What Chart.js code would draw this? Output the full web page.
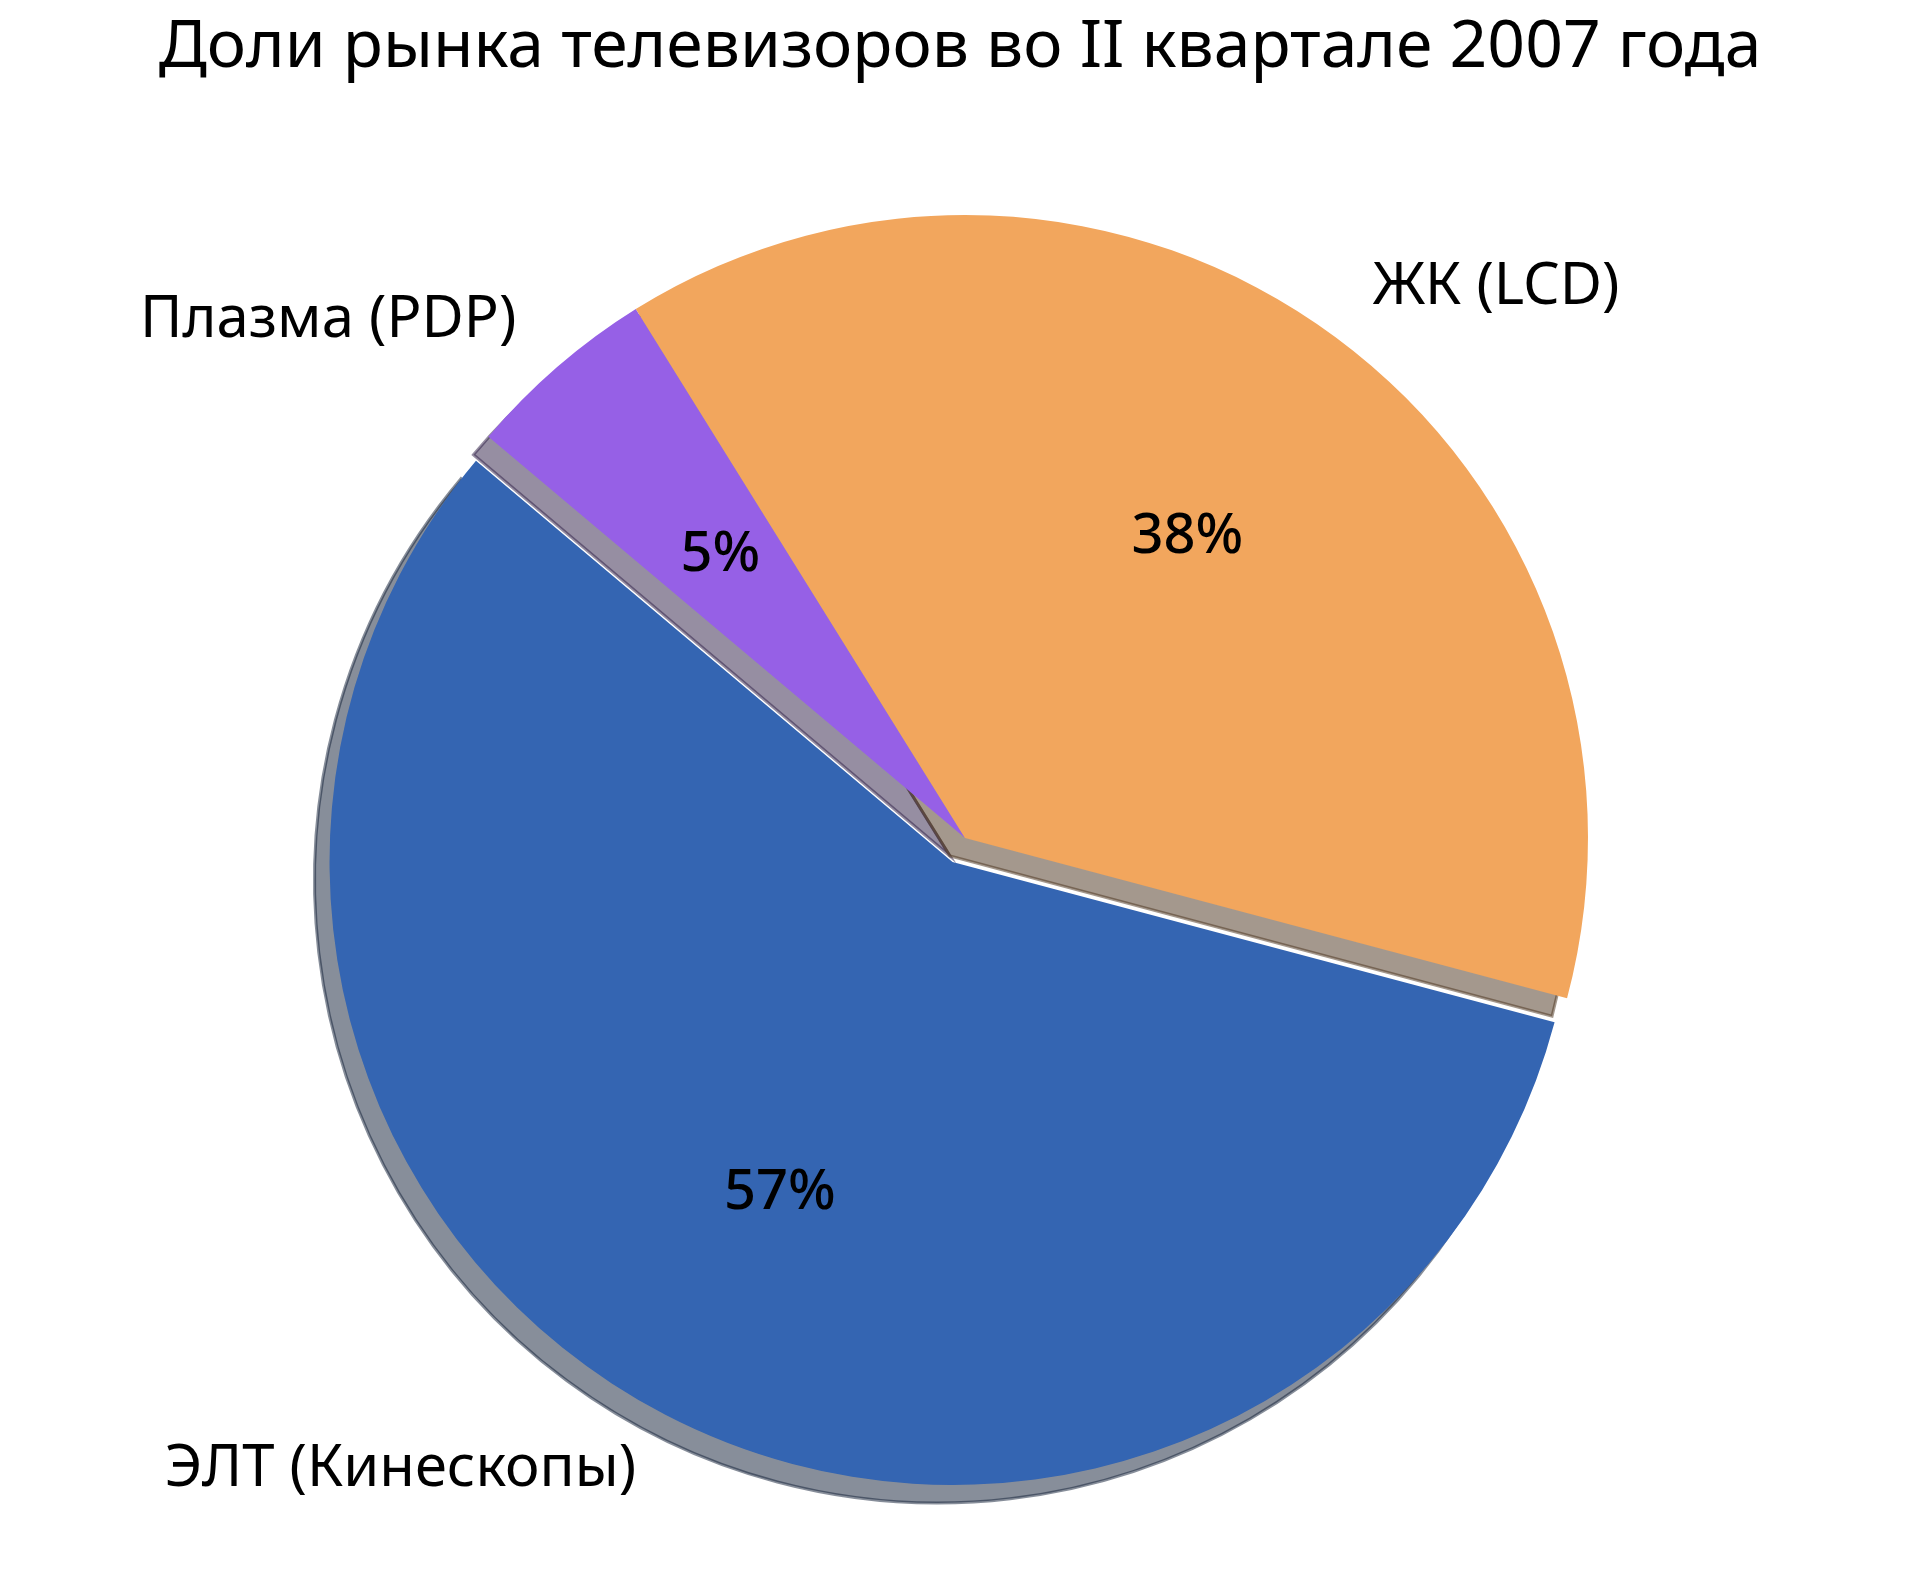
<!DOCTYPE html>
<html><head><meta charset="utf-8">
<script src="https://cdn.jsdelivr.net/npm/chart.js@4.4.0/dist/chart.umd.min.js"></script>
<style>html,body{margin:0;padding:0;background:#fff;} #wrap{width:1920px;height:1573px;position:relative;}</style>
</head><body><div id="wrap"><canvas id="c" width="1920" height="1573"></canvas></div>
<script>
const titleText = 'Доли рынка телевизоров во II квартале 2007 года';
const categories = ['ЭЛТ (Кинескопы)', 'Плазма (PDP)', 'ЖК (LCD)'];
const shares = [57, 5, 38];
const sliceColors = ['#3465B2', '#9660E6', '#F2A65D'];
const explodeFlags = [1, 0, 0];

const FONT = '"Noto Sans", "Open Sans", sans-serif';
const EXPLODE_PX = 27;
const SHADOW_DX = -15, SHADOW_DY = 18;

function shadowOf(hex) {
  const n = parseInt(hex.slice(1), 16);
  const r = ((n >> 16) & 255) * 0.3, g = ((n >> 8) & 255) * 0.3, b = (n & 255) * 0.3;
  return 'rgba(' + Math.round(r) + ',' + Math.round(g) + ',' + Math.round(b) + ',0.5)';
}

const explodePlugin = {
  id: 'explode',
  afterDatasetUpdate(chart, args) {
    const meta = args.meta;
    meta.data.forEach((arc, i) => {
      if (explodeFlags[i]) {
        const mid = (arc.startAngle + arc.endAngle) / 2;
        arc.x += Math.cos(mid) * EXPLODE_PX;
        arc.y += Math.sin(mid) * EXPLODE_PX;
      }
    });
  }
};

const shadowPlugin = {
  id: 'shadow',
  beforeDatasetsDraw(chart) {
    const ctx = chart.ctx;
    const meta = chart.getDatasetMeta(0);
    ctx.save();
    meta.data.forEach((arc, i) => {
      const x = arc.x + SHADOW_DX, y = arc.y + SHADOW_DY;
      ctx.beginPath();
      ctx.moveTo(x, y);
      ctx.arc(x, y, arc.outerRadius, arc.startAngle, arc.endAngle);
      ctx.closePath();
      const c = shadowOf(sliceColors[i]);
      ctx.fillStyle = c;
      ctx.fill();
      ctx.strokeStyle = c;
      ctx.lineWidth = 3;
      ctx.lineJoin = 'miter';
      ctx.stroke();
    });
    ctx.restore();
  }
};

const labelPlugin = {
  id: 'pieLabels',
  afterDatasetsDraw(chart) {
    const ctx = chart.ctx;
    const meta = chart.getDatasetMeta(0);
    const total = shares.reduce((a, b) => a + b, 0);
    ctx.save();
    ctx.fillStyle = '#000';
    meta.data.forEach((arc, i) => {
      const mid = (arc.startAngle + arc.endAngle) / 2;
      const R = arc.outerRadius;
      const lx = arc.x + Math.cos(mid) * R * 1.1;
      const ly = arc.y + Math.sin(mid) * R * 1.1;
      ctx.font = '58px ' + FONT;
      ctx.textBaseline = 'middle';
      ctx.textAlign = Math.cos(mid) >= 0 ? 'left' : 'right';
      ctx.fillText(categories[i], lx, ly);
      const px = arc.x + Math.cos(mid) * R * 0.6;
      const py = arc.y + Math.sin(mid) * R * 0.6;
      ctx.font = '500 56px ' + FONT;
      ctx.textAlign = 'center';
      ctx.fillText(Math.round(shares[i] / total * 100) + '%', px, py);
    });
    ctx.restore();
  }
};

const titlePlugin = {
  id: 'titleText',
  afterDraw(chart) {
    const ctx = chart.ctx;
    ctx.save();
    ctx.fillStyle = '#000';
    ctx.font = '66px ' + FONT;
    ctx.textAlign = 'center';
    ctx.textBaseline = 'alphabetic';
    ctx.fillText(titleText, 960, 67);
    ctx.restore();
  }
};

new Chart(document.getElementById('c'), {
  type: 'pie',
  data: {
    labels: categories,
    datasets: [{
      data: shares,
      backgroundColor: sliceColors,
      borderWidth: 0,
      hoverOffset: 0,
      radius: 623
    }]
  },
  options: {
    responsive: false,
    devicePixelRatio: 1,
    animation: false,
    rotation: 104.9,
    layout: { padding: { left: 10, right: 0, top: 103, bottom: 0 } },
    plugins: { legend: { display: false }, tooltip: { enabled: false }, title: { display: false } }
  },
  plugins: [explodePlugin, shadowPlugin, labelPlugin, titlePlugin]
});
</script>
</body></html>
